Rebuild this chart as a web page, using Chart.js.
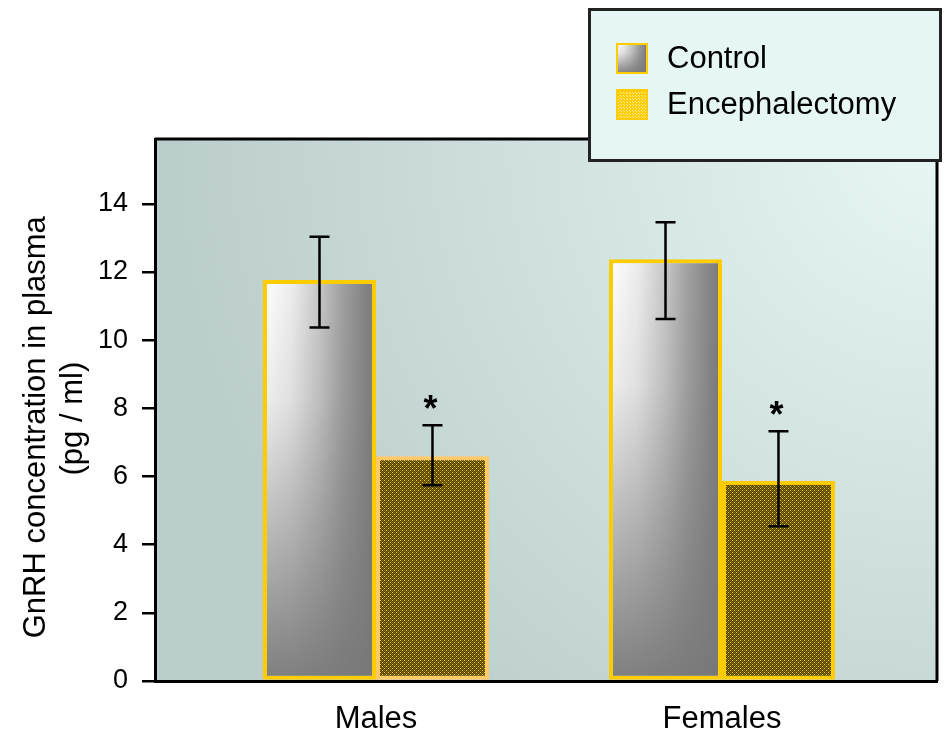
<!DOCTYPE html>
<html>
<head>
<meta charset="utf-8">
<script src="https://cdn.jsdelivr.net/npm/chart.js@4/dist/chart.umd.min.js"></script>
<style>
  body { margin: 0; background: #fff; }
  canvas { display: block; }
</style>
</head>
<body>
<canvas id="c" width="944" height="733"></canvas>
<script>
// data
const categories = ['Males', 'Females'];
const seriesNames = ['Control', 'Encephalectomy'];
const controlValues = [11.76, 12.37];
const controlErrUp = [1.27, 1.09];
const controlErrDown = [1.39, 1.75];
const enceValues = [6.59, 5.87];
const enceErrUp = [0.91, 1.46];
const enceErrDown = [0.85, 1.33];
const enceStars = ['*', '*'];
const yTicks = [0, 2, 4, 6, 8, 10, 12, 14];

const FONT = '"Liberation Sans", Arial, Helvetica, sans-serif';
const ctx = document.getElementById('c').getContext('2d');

// grey shading of the control bars (white top-left, grey right / bottom)
const SH = 100;
function makeShade() {
  const cv = document.createElement('canvas');
  cv.width = SH; cv.height = SH;
  const g = cv.getContext('2d');
  let hg = g.createLinearGradient(0, 0, SH, 0);
  hg.addColorStop(0, '#ffffff');
  hg.addColorStop(0.25, '#ededed');
  hg.addColorStop(0.5, '#c6c6c6');
  hg.addColorStop(0.7, '#a0a0a0');
  hg.addColorStop(1, '#767676');
  g.fillStyle = hg;
  g.fillRect(0, 0, SH, SH);
  let vg = g.createLinearGradient(0, 0, 0, SH);
  vg.addColorStop(0, 'rgba(122,122,122,0)');
  vg.addColorStop(0.3, 'rgba(122,122,122,0.12)');
  vg.addColorStop(1, 'rgba(120,120,120,0.95)');
  g.fillStyle = vg;
  g.fillRect(0, 0, SH, SH);
  return cv;
}
const shadeCanvas = makeShade();
const ctrlPatterns = categories.map(() => ctx.createPattern(shadeCanvas, 'no-repeat'));

// dotted olive / yellow fill of the encephalectomy bars
function makeDots(cells, size) {
  const cv = document.createElement('canvas');
  cv.width = size; cv.height = size;
  const g = cv.getContext('2d');
  cells.forEach((row, r) => row.forEach((col, c) => {
    g.fillStyle = col;
    g.fillRect(c, r, 1, 1);
  }));
  return cv;
}
const Y = '#ffd000', O = '#8a7000', D = '#4e3f00';
const encePattern = ctx.createPattern(makeDots([
  [Y, D, O, D],
  [D, O, D, O],
  [O, D, Y, D],
  [D, O, D, O]
], 4), 'repeat');
const W = '#fff0a0', K = '#ffcc00';
const legendDots = ctx.createPattern(makeDots([
  [W, K, K],
  [K, K, K],
  [K, K, W]
], 3), 'repeat');

const xPos = categories.map((c, i) => i + 1);

const plotBg = {
  id: 'plotBg',
  beforeDraw(chart) {
    const a = chart.chartArea, g = chart.ctx;
    g.save();
    g.fillStyle = '#fff';
    g.fillRect(0, 0, chart.width, chart.height);
    const rg = g.createRadialGradient(a.right, a.top, 0, a.right, a.top, 760);
    rg.addColorStop(0, '#e8f7f5');
    rg.addColorStop(0.45, '#d3e4e2');
    rg.addColorStop(1, '#bccecc');
    g.fillStyle = rg;
    g.fillRect(a.left, a.top, a.right - a.left, a.bottom - a.top);
    g.restore();
  }
};

const barShade = {
  id: 'barShade',
  beforeDatasetsDraw(chart) {
    chart.getDatasetMeta(0).data.forEach((bar, i) => {
      const left = bar.x - bar.width / 2;
      const top = Math.min(bar.y, bar.base);
      const h = Math.abs(bar.base - bar.y);
      ctrlPatterns[i].setTransform(new DOMMatrix().translate(left, top).scale(bar.width / SH, h / SH));
    });
  }
};

const errorBars = {
  id: 'errorBars',
  afterDatasetsDraw(chart) {
    const g = chart.ctx, ys = chart.scales.y;
    const sets = [
      [controlValues, controlErrUp, controlErrDown],
      [enceValues, enceErrUp, enceErrDown]
    ];
    g.save();
    g.strokeStyle = '#000';
    g.lineWidth = 2.5;
    sets.forEach((s, d) => {
      chart.getDatasetMeta(d).data.forEach((bar, i) => {
        const hi = ys.getPixelForValue(s[0][i] + s[1][i]);
        const lo = ys.getPixelForValue(s[0][i] - s[2][i]);
        g.beginPath();
        g.moveTo(bar.x, hi); g.lineTo(bar.x, lo);
        g.moveTo(bar.x - 10, hi); g.lineTo(bar.x + 10, hi);
        g.moveTo(bar.x - 10, lo); g.lineTo(bar.x + 10, lo);
        g.stroke();
        if (d === 1 && enceStars[i]) {
          g.fillStyle = '#000';
          g.font = 'bold 36px ' + FONT;
          g.textAlign = 'center';
          g.textBaseline = 'alphabetic';
          g.fillText(enceStars[i], bar.x - 2, hi - 4);
        }
      });
    });
    g.restore();
  }
};

const frameAndLegend = {
  id: 'frameAndLegend',
  afterDraw(chart) {
    const a = chart.chartArea, g = chart.ctx;
    g.save();
    g.strokeStyle = '#000';
    g.lineWidth = 3;
    g.beginPath();
    g.moveTo(a.left, a.top); g.lineTo(a.right, a.top); g.lineTo(a.right, a.bottom);
    g.stroke();

    // legend box
    g.fillStyle = '#e6f6f5';
    g.fillRect(589, 9, 352, 152);
    g.strokeStyle = '#222';
    g.strokeRect(589.5, 9.5, 351, 151);

    const fills = [null, legendDots];
    const rows = [58, 104];
    seriesNames.forEach((name, i) => {
      const y = rows[i];
      if (i === 0) {
        g.drawImage(shadeCanvas, 616, y - 15, 32, 31);
      } else {
        g.fillStyle = fills[i];
        g.fillRect(616, y - 15, 32, 31);
      }
      g.strokeStyle = '#ffcc00';
      g.lineWidth = 2;
      g.strokeRect(617, y - 14, 30, 29);
      g.fillStyle = '#000';
      g.font = '31px ' + FONT;
      g.textAlign = 'left';
      g.textBaseline = 'middle';
      g.fillText(name, 667, y + 1);
    });
    g.restore();
  }
};

new Chart(ctx, {
  type: 'bar',
  data: {
    datasets: [
      {
        label: seriesNames[0],
        data: xPos.map((x, i) => ({ x: x, y: controlValues[i] })),
        backgroundColor: (c) => (c.dataIndex !== undefined ? ctrlPatterns[c.dataIndex] : '#999'),
        borderColor: '#ffcc00',
        borderWidth: 4,
        borderSkipped: false
      },
      {
        label: seriesNames[1],
        data: xPos.map((x, i) => ({ x: x, y: enceValues[i] })),
        backgroundColor: encePattern,
        borderColor: ['#ffc966', '#ffcc00'],
        borderWidth: 4,
        borderSkipped: false
      }
    ]
  },
  options: {
    responsive: false,
    devicePixelRatio: 1,
    animation: false,
    categoryPercentage: 0.653,
    barPercentage: 1,
    layout: { padding: { top: 139, right: 7, left: 0, bottom: 0 } },
    plugins: { legend: { display: false }, tooltip: { enabled: false } },
    scales: {
      x: {
        type: 'linear',
        min: 0.3613,
        max: 2.6214,
        offset: false,
        afterBuildTicks: (s) => { s.ticks = xPos.map(v => ({ value: v })); },
        afterFit: (s) => { s.height = 52; },
        grid: { drawOnChartArea: false, drawTicks: false },
        border: { display: true, color: '#000', width: 3 },
        ticks: {
          callback: (v) => categories[v - 1],
          color: '#000',
          font: { family: FONT, size: 31 },
          padding: 20,
          maxRotation: 0
        }
      },
      y: {
        min: 0,
        max: 15.9,
        afterBuildTicks: (s) => { s.ticks = yTicks.map(v => ({ value: v })); },
        afterFit: (s) => { s.width = 155; },
        grid: { drawOnChartArea: false, drawTicks: true, tickLength: 13, color: '#000', lineWidth: 2.5 },
        border: { display: true, color: '#000', width: 3 },
        ticks: {
          color: '#000',
          font: { family: FONT, size: 27 },
          padding: 14
        },
        title: {
          display: true,
          text: ['GnRH concentration in plasma    ', '(pg / ml)  '],
          color: '#000',
          font: { family: FONT, size: 31, lineHeight: 1.2 },
          padding: { top: 18, bottom: 0 }
        }
      }
    }
  },
  plugins: [plotBg, barShade, errorBars, frameAndLegend]
});
</script>
</body>
</html>
